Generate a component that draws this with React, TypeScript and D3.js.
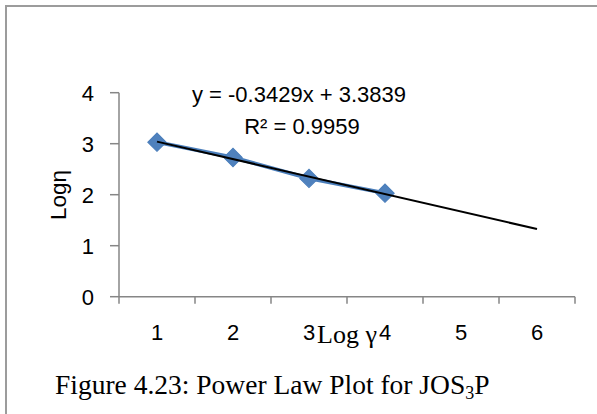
import React from "react";
import * as d3 from "d3";

const categories: number[] = [1, 2, 3, 4, 5, 6];
const logGamma: number[] = [1, 2, 3, 4];
const logEta: number[] = [3.03, 2.73, 2.32, 2.03];
const yTicks: number[] = [0, 1, 2, 3, 4];
const trendSlope = -0.3429;
const trendIntercept = 3.3839;
const equationText = "y = -0.3429x + 3.3839";
const r2Text = "R² = 0.9959";
const xTitle = "Log γ";
const yTitle = "Logη";

const W = 597;
const H = 414;
const sans = "'Liberation Sans', Arial, sans-serif";
const serif = "'Liberation Serif', 'Times New Roman', serif";

export default function App() {
  const x = d3.scaleLinear().domain([0.5, 6.5]).range([119, 575]);
  const y = d3.scaleLinear().domain([0, 4]).range([296.7, 92.7]);
  const xTickVals = d3.range(0.5, 6.6, 1);
  const line = d3
    .line<number>()
    .x((_, i) => x(logGamma[i]))
    .y((d) => y(d));
  const diamond = d3.symbol().type(d3.symbolSquare).size(170)() as string;
  const tx0 = categories[0];
  const tx1 = categories[categories.length - 1];
  const axisColor = "#868686";

  return (
    <svg
      width={W}
      height={H}
      style={{ position: "fixed", left: 0, top: 0, background: "#fff" }}
    >
      <rect x={0} y={0} width={W} height={H} fill="#fff" />
      <path d="M6,414 V6 H597" fill="none" stroke="#9c9c9c" strokeWidth={2} />

      {/* y axis */}
      <line x1={x(0.5)} x2={x(0.5)} y1={y(4)} y2={y(0)} stroke={axisColor} strokeWidth={1.5} />
      {yTicks.map((t) => (
        <g key={"y" + t}>
          <line x1={x(0.5) - 9} x2={x(0.5)} y1={y(t)} y2={y(t)} stroke={axisColor} strokeWidth={1.5} />
          <text
            x={94}
            y={y(t) + 1}
            textAnchor="end"
            dominantBaseline="central"
            fontFamily={sans}
            fontSize={22}
            fill="#000"
          >
            {t}
          </text>
        </g>
      ))}

      {/* x axis */}
      <line x1={x(0.5)} x2={x(6.5)} y1={y(0)} y2={y(0)} stroke={axisColor} strokeWidth={1.5} />
      {xTickVals.map((t) => (
        <line key={"xt" + t} x1={x(t)} x2={x(t)} y1={y(0)} y2={y(0) + 7} stroke={axisColor} strokeWidth={1.5} />
      ))}
      {categories.map((c) => (
        <text
          key={"xl" + c}
          x={x(c)}
          y={340}
          textAnchor="middle"
          fontFamily={sans}
          fontSize={22}
          fill="#000"
        >
          {c}
        </text>
      ))}

      {/* series */}
      <path d={line(logEta) as string} fill="none" stroke="#4A7EBB" strokeWidth={3.8} />
      {logEta.map((v, i) => (
        <path
          key={"m" + i}
          d={diamond}
          transform={`translate(${x(logGamma[i])},${y(v)}) rotate(45)`}
          fill="#4F81BD"
          stroke="#4A7EBB"
          strokeWidth={1}
        />
      ))}

      {/* trendline */}
      <line
        x1={x(tx0)}
        y1={y(trendSlope * tx0 + trendIntercept)}
        x2={x(tx1)}
        y2={y(trendSlope * tx1 + trendIntercept)}
        stroke="#000"
        strokeWidth={2}
      />

      {/* equation */}
      <text x={299} y={102} textAnchor="middle" fontFamily={sans} fontSize={22} fill="#000">
        {equationText}
      </text>
      <text x={302} y={134} textAnchor="middle" fontFamily={sans} fontSize={22} fill="#000">
        {r2Text}
      </text>

      {/* axis titles */}
      <text x={347} y={343} textAnchor="middle" fontFamily={serif} fontSize={26} fill="#000">
        {xTitle}
      </text>
      <text
        transform={`translate(66,195) rotate(-90)`}
        textAnchor="middle"
        fontFamily={sans}
        fontSize={22.5}
        fill="#000"
      >
        {yTitle}
      </text>

      {/* caption */}
      <text x={55} y={394} fontFamily={serif} fontSize={27.5} fill="#000">
        Figure 4.23: Power Law Plot for JOS
        <tspan fontSize={18} dy={5}>3</tspan>
        <tspan dy={-5}>P</tspan>
      </text>
    </svg>
  );
}
